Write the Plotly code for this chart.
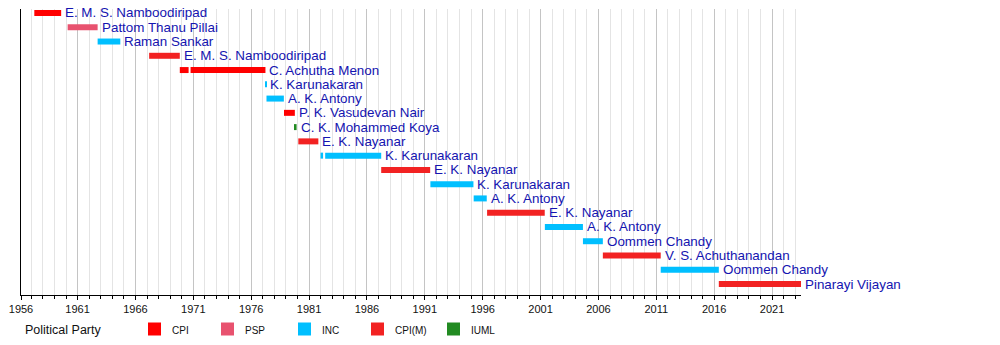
import plotly.graph_objects as go

# ---- data ----
names = [
    "E. M. S. Namboodiripad", "Pattom Thanu Pillai", "Raman Sankar",
    "E. M. S. Namboodiripad", "C. Achutha Menon", "K. Karunakaran",
    "A. K. Antony", "P. K. Vasudevan Nair", "C. K. Mohammed Koya",
    "E. K. Nayanar", "K. Karunakaran", "E. K. Nayanar", "K. Karunakaran",
    "A. K. Antony", "E. K. Nayanar", "A. K. Antony", "Oommen Chandy",
    "V. S. Achuthanandan", "Oommen Chandy", "Pinarayi Vijayan",
]
# term segments: (row, start, end, party) in decimal years
seg_row = [0, 1, 2, 3, 4, 4, 5, 6, 7, 8, 9, 10, 10, 11, 12, 13, 14, 15, 16, 17, 18, 19]
seg_start = [1957.26, 1960.14, 1962.73, 1967.18, 1969.83, 1970.76, 1977.23, 1977.32,
             1978.83, 1979.78, 1980.07, 1981.99, 1982.39, 1987.23, 1991.48, 1995.22,
             1996.38, 2001.37, 2004.66, 2006.38, 2011.38, 2016.40]
seg_end = [1959.58, 1962.73, 1964.69, 1969.83, 1970.59, 1977.23, 1977.31, 1978.82,
           1979.77, 1979.92, 1981.80, 1982.21, 1987.23, 1991.46, 1995.20, 1996.35,
           2001.36, 2004.66, 2006.38, 2011.38, 2016.40, 2023.50]
seg_party = ["CPI", "PSP", "INC", "CPI(M)", "CPI", "CPI", "INC", "INC", "CPI", "IUML",
             "CPI(M)", "INC", "INC", "CPI(M)", "INC", "INC", "CPI(M)", "INC", "INC",
             "CPI(M)", "INC", "CPI(M)"]

parties = ["CPI", "PSP", "INC", "CPI(M)", "IUML"]
party_colors = ["#ff0000", "#e8526f", "#00bfff", "#f22222", "#228b22"]

tick_years = [1956, 1961, 1966, 1971, 1976, 1981, 1986, 1991, 1996, 2001, 2006, 2011, 2016, 2021]
x_start, x_end = 1956.11, 2023.5

FONT = "Liberation Sans, Arial, sans-serif"
fig = go.Figure()

for p, c in zip(parties, party_colors):
    idx = [i for i, q in enumerate(seg_party) if q == p]
    fig.add_trace(go.Bar(
        orientation="h",
        y=[seg_row[i] for i in idx],
        base=[seg_start[i] for i in idx],
        x=[seg_end[i] - seg_start[i] for i in idx],
        marker=dict(color=c, line=dict(width=0)),
        width=0.42,
        showlegend=False,
        hoverinfo="skip",
    ))

# labels: at the end of the last segment of each row
for r, name in enumerate(names):
    lx = max(seg_end[i] for i in range(len(seg_row)) if seg_row[i] == r)
    fig.add_annotation(x=lx, y=r, xref="x", yref="y", text=name, showarrow=False,
                       xanchor="left", yanchor="middle", xshift=2,
                       font=dict(family=FONT, size=13.4, color="#1414b0"))

# tick labels (first label sits at the axis start)
tickvals = [x_start] + tick_years[1:]
ticktext = [str(y) for y in tick_years]

fig.update_layout(
    width=1000, height=345,
    margin=dict(l=21, r=199, t=9, b=50),
    paper_bgcolor="white", plot_bgcolor="white",
    barmode="overlay",
    font=dict(family=FONT, color="#000000"),
    xaxis=dict(
        range=[x_start, x_end],
        tickmode="array", tickvals=tickvals, ticktext=ticktext,
        ticks="outside", ticklen=4, tickcolor="#000000", tickwidth=1,
        showgrid=True, gridcolor="#c4c4c4", gridwidth=1,
        showline=True, linecolor="#000000", linewidth=1,
        tickfont=dict(size=11, color="#111111"),
        zeroline=False,
        minor=dict(dtick=1, tick0=1956, ticks="outside", ticklen=3, tickcolor="#000000",
                   showgrid=True, gridcolor="#e4e4e4", gridwidth=1),
    ),
    yaxis=dict(
        range=[19.77, -0.28],
        showticklabels=False, showgrid=False, zeroline=False,
        showline=True, linecolor="#000000", linewidth=1, ticks="",
    ),
)

# ---- legend (manual) ----
plot_l, plot_w, plot_b, plot_h = 21, 780, 295, 286
def px(x):
    return (x - plot_l) / plot_w
def py(y):
    return (plot_b - y) / plot_h

fig.add_annotation(x=px(23), y=py(330), xref="paper", yref="paper",
                   text="Political Party", showarrow=False, xanchor="left", yanchor="middle",
                   font=dict(size=12.5, color="#111111"))
swatch_x = [148, 221, 298, 371, 447]
for sx, p, c in zip(swatch_x, parties, party_colors):
    fig.add_shape(type="rect", xref="paper", yref="paper",
                  x0=px(sx), x1=px(sx + 13), y0=py(335.5), y1=py(322.5),
                  fillcolor=c, line=dict(width=0))
    fig.add_annotation(x=px(sx + 22), y=py(330), xref="paper", yref="paper",
                       text=p, showarrow=False, xanchor="left", yanchor="middle",
                       font=dict(size=10, color="#111111"))

fig.write_html("out.html")
